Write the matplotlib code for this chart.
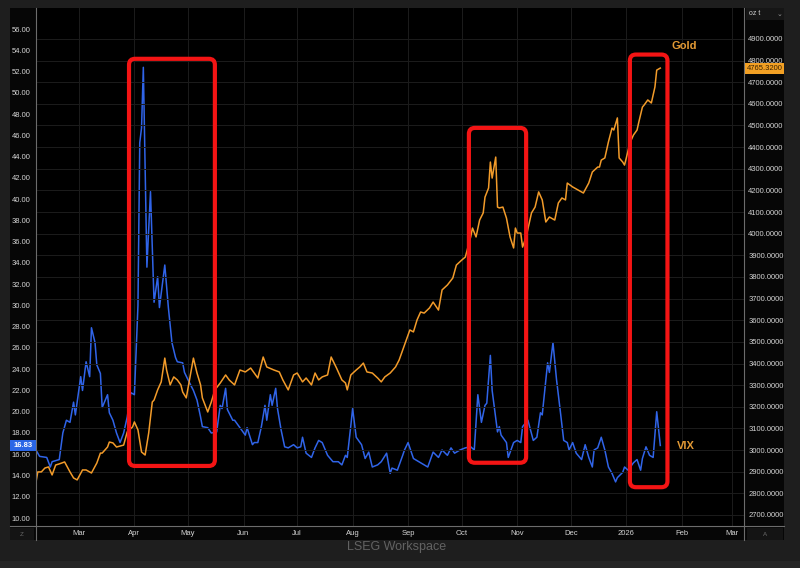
import matplotlib
matplotlib.use('Agg')
import matplotlib.pyplot as plt
from matplotlib.patches import Rectangle, FancyBboxPatch
from matplotlib.lines import Line2D
import matplotlib.transforms as mtransforms
import pandas as pd

plt.rcParams['font.family'] = ['Liberation Sans', 'DejaVu Sans']

# VIX (left axis)
vix_dates = ['2025-02-05', '2025-02-07', '2025-02-11', '2025-02-13', '2025-02-14', '2025-02-18',
             '2025-02-20', '2025-02-22', '2025-02-24', '2025-02-26', '2025-02-27', '2025-03-02',
             '2025-03-03', '2025-03-05', '2025-03-07', '2025-03-08', '2025-03-10', '2025-03-11',
             '2025-03-13', '2025-03-14', '2025-03-17', '2025-03-18', '2025-03-20', '2025-03-22',
             '2025-03-24', '2025-03-26', '2025-03-28', '2025-03-30', '2025-04-01', '2025-04-03',
             '2025-04-04', '2025-04-05', '2025-04-06', '2025-04-08', '2025-04-10', '2025-04-12',
             '2025-04-14', '2025-04-15', '2025-04-18', '2025-04-20', '2025-04-22', '2025-04-24',
             '2025-04-25', '2025-04-28', '2025-04-29', '2025-05-01', '2025-05-04', '2025-05-06',
             '2025-05-08', '2025-05-09', '2025-05-12', '2025-05-14', '2025-05-17', '2025-05-19',
             '2025-05-20', '2025-05-22', '2025-05-23', '2025-05-26', '2025-05-27', '2025-05-30',
             '2025-06-02', '2025-06-03', '2025-06-06', '2025-06-07', '2025-06-09', '2025-06-11',
             '2025-06-13', '2025-06-14', '2025-06-16', '2025-06-17', '2025-06-19', '2025-06-20',
             '2025-06-22', '2025-06-24', '2025-06-26', '2025-06-29', '2025-07-01', '2025-07-03',
             '2025-07-04', '2025-07-06', '2025-07-09', '2025-07-11', '2025-07-13', '2025-07-15',
             '2025-07-18', '2025-07-21', '2025-07-24', '2025-07-26', '2025-07-28', '2025-07-29',
             '2025-07-31', '2025-08-01', '2025-08-03', '2025-08-06', '2025-08-08', '2025-08-10',
             '2025-08-12', '2025-08-15', '2025-08-17', '2025-08-20', '2025-08-22', '2025-08-23',
             '2025-08-26', '2025-08-29', '2025-08-30', '2025-09-01', '2025-09-04', '2025-09-08',
             '2025-09-12', '2025-09-15', '2025-09-18', '2025-09-20', '2025-09-23', '2025-09-25',
             '2025-09-27', '2025-09-30', '2025-10-03', '2025-10-06', '2025-10-08', '2025-10-10',
             '2025-10-12', '2025-10-14', '2025-10-15', '2025-10-17', '2025-10-18', '2025-10-21',
             '2025-10-22', '2025-10-23', '2025-10-26', '2025-10-27', '2025-10-30', '2025-11-01',
             '2025-11-03', '2025-11-04', '2025-11-07', '2025-11-10', '2025-11-12', '2025-11-14',
             '2025-11-15', '2025-11-18', '2025-11-19', '2025-11-21', '2025-11-23', '2025-11-25',
             '2025-11-27', '2025-11-29', '2025-11-30', '2025-12-02', '2025-12-04', '2025-12-07',
             '2025-12-09', '2025-12-11', '2025-12-13', '2025-12-14', '2025-12-16', '2025-12-18',
             '2025-12-20', '2025-12-22', '2025-12-24', '2025-12-26', '2025-12-27', '2025-12-30',
             '2025-12-31', '2026-01-02', '2026-01-05', '2026-01-07', '2026-01-09', '2026-01-10',
             '2026-01-12', '2026-01-14', '2026-01-16', '2026-01-18', '2026-01-20']
vix_vals = [16.4, 15.8, 15.7, 14.8, 15.3, 15.5, 18.0, 19.2, 19.0, 20.9, 19.7, 23.3,
            22.0, 24.7, 23.3, 27.9, 26.5, 24.4, 23.6, 20.4, 21.6, 19.9, 19.2, 18.0,
            17.1, 18.0, 19.5, 21.8, 21.6, 30.0, 45.3, 46.7, 52.4, 33.6, 40.7, 30.3,
            32.7, 29.8, 33.8, 29.8, 26.5, 25.1, 24.7, 24.6, 23.7, 23.0, 22.0, 21.1,
            19.5, 18.6, 18.5, 18.0, 18.1, 20.6, 20.3, 22.2, 20.2, 19.2, 19.2, 18.5,
            17.8, 18.5, 16.9, 17.1, 17.1, 18.6, 20.6, 19.2, 21.6, 20.6, 22.2, 20.3,
            18.3, 16.7, 16.6, 16.9, 16.6, 16.7, 17.6, 16.1, 15.7, 16.6, 17.3, 17.1,
            15.9, 15.3, 15.3, 15.0, 15.9, 15.7, 18.7, 20.3, 17.6, 16.9, 15.6, 16.2,
            14.8, 15.0, 15.3, 16.1, 14.2, 14.7, 14.5, 15.9, 16.4, 17.1, 15.6, 15.2,
            14.8, 16.2, 15.7, 16.4, 15.9, 16.6, 16.1, 16.4, 16.6, 16.7, 16.4, 21.6,
            19.0, 20.6, 20.8, 25.3, 22.0, 18.1, 18.6, 17.8, 17.1, 15.7, 17.1, 17.3,
            17.1, 18.6, 19.2, 17.3, 17.6, 19.9, 19.7, 24.6, 23.7, 26.5, 23.0, 20.2,
            17.3, 17.1, 16.4, 17.1, 16.1, 15.5, 16.9, 15.7, 14.8, 16.4, 16.6, 17.6,
            16.4, 14.8, 14.2, 13.4, 13.8, 14.3, 14.8, 14.5, 15.2, 15.5, 14.5, 15.6,
            16.7, 15.9, 15.7, 20.0, 16.83]

# Gold (right axis)
gold_dates = ['2025-02-05', '2025-02-06', '2025-02-08', '2025-02-10', '2025-02-12', '2025-02-14',
              '2025-02-16', '2025-02-18', '2025-02-21', '2025-02-24', '2025-02-26', '2025-02-28',
              '2025-03-03', '2025-03-05', '2025-03-08', '2025-03-11', '2025-03-13', '2025-03-14',
              '2025-03-17', '2025-03-18', '2025-03-20', '2025-03-22', '2025-03-26', '2025-03-28',
              '2025-03-31', '2025-04-01', '2025-04-03', '2025-04-05', '2025-04-07', '2025-04-09',
              '2025-04-11', '2025-04-12', '2025-04-14', '2025-04-16', '2025-04-18', '2025-04-19',
              '2025-04-21', '2025-04-23', '2025-04-25', '2025-04-27', '2025-04-28', '2025-04-30',
              '2025-05-02', '2025-05-04', '2025-05-06', '2025-05-08', '2025-05-09', '2025-05-12',
              '2025-05-14', '2025-05-16', '2025-05-19', '2025-05-22', '2025-05-24', '2025-05-27',
              '2025-05-30', '2025-06-02', '2025-06-05', '2025-06-09', '2025-06-12', '2025-06-14',
              '2025-06-18', '2025-06-21', '2025-06-23', '2025-06-26', '2025-06-29', '2025-07-01',
              '2025-07-04', '2025-07-06', '2025-07-09', '2025-07-11', '2025-07-13', '2025-07-15',
              '2025-07-18', '2025-07-20', '2025-07-23', '2025-07-26', '2025-07-28', '2025-07-29',
              '2025-07-31', '2025-08-03', '2025-08-05', '2025-08-07', '2025-08-09', '2025-08-12',
              '2025-08-15', '2025-08-17', '2025-08-19', '2025-08-22', '2025-08-25', '2025-08-27',
              '2025-08-30', '2025-09-02', '2025-09-04', '2025-09-06', '2025-09-08', '2025-09-10',
              '2025-09-13', '2025-09-15', '2025-09-18', '2025-09-20', '2025-09-23', '2025-09-26',
              '2025-09-28', '2025-10-01', '2025-10-03', '2025-10-06', '2025-10-07', '2025-10-09',
              '2025-10-11', '2025-10-13', '2025-10-14', '2025-10-16', '2025-10-17', '2025-10-18',
              '2025-10-20', '2025-10-21', '2025-10-22', '2025-10-24', '2025-10-26', '2025-10-28',
              '2025-10-30', '2025-10-31', '2025-11-01', '2025-11-03', '2025-11-04', '2025-11-06',
              '2025-11-09', '2025-11-11', '2025-11-13', '2025-11-15', '2025-11-17', '2025-11-19',
              '2025-11-22', '2025-11-24', '2025-11-26', '2025-11-28', '2025-11-29', '2025-12-02',
              '2025-12-05', '2025-12-08', '2025-12-11', '2025-12-13', '2025-12-16', '2025-12-17',
              '2025-12-18', '2025-12-20', '2025-12-22', '2025-12-24', '2025-12-25', '2025-12-27',
              '2025-12-28', '2025-12-30', '2025-12-31', '2026-01-01', '2026-01-03', '2026-01-05',
              '2026-01-07', '2026-01-08', '2026-01-10', '2026-01-11', '2026-01-13', '2026-01-15',
              '2026-01-17', '2026-01-18', '2026-01-20']
gold_vals = [2852, 2899, 2899, 2917, 2922, 2885, 2931, 2936, 2945, 2899, 2871, 2862,
             2908, 2908, 2894, 2940, 2986, 2986, 3014, 3037, 3033, 3014, 3023, 3084,
             3107, 3130, 3093, 2991, 2977, 3079, 3222, 3231, 3278, 3315, 3425, 3370,
             3301, 3338, 3324, 3301, 3268, 3241, 3333, 3425, 3356, 3301, 3241, 3176,
             3222, 3278, 3310, 3347, 3324, 3301, 3370, 3361, 3379, 3333, 3430, 3384,
             3370, 3361, 3324, 3278, 3347, 3356, 3315, 3333, 3301, 3356, 3324, 3338,
             3347, 3430, 3379, 3324, 3310, 3278, 3347, 3370, 3384, 3402, 3361, 3356,
             3333, 3315, 3338, 3356, 3384, 3416, 3486, 3555, 3546, 3601, 3638, 3633,
             3657, 3684, 3647, 3740, 3763, 3795, 3855, 3878, 3892, 3985, 4026, 3985,
             4063, 4096, 4169, 4211, 4331, 4257, 4354, 4123, 4119, 4123, 4072, 3985,
             3934, 4026, 4003, 4003, 3938, 3985, 4096, 4123, 4193, 4156, 4054, 4077,
             4063, 4142, 4165, 4156, 4234, 4216, 4202, 4188, 4234, 4285, 4308, 4308,
             4340, 4350, 4424, 4488, 4479, 4535, 4350, 4331, 4317, 4350, 4419, 4456,
             4479, 4516, 4585, 4595, 4618, 4604, 4678, 4756, 4765.32]

vix_ticks = list(range(10, 57, 2))
gold_ticks = list(range(2700, 4901, 100))
month_ticks = ['2025-03-01', '2025-04-01', '2025-05-01', '2025-06-01', '2025-07-01', '2025-08-01',
               '2025-09-01', '2025-10-01', '2025-11-01', '2025-12-01', '2026-01-01', '2026-02-01',
               '2026-03-01']
month_labels = ['Mar', 'Apr', 'May', 'Jun', 'Jul', 'Aug', 'Sep', 'Oct', 'Nov', 'Dec', '2026', 'Feb', 'Mar']

# highlighted windows: start, end and VIX range covered by the red frames
box_starts = ['2025-03-29', '2025-10-05', '2026-01-03']
box_ends = ['2025-05-16', '2025-11-06', '2026-01-24']
box_lows = [14.9, 15.2, 12.9]
box_highs = [53.2, 46.7, 53.6]

W, H = 800, 568
fig = plt.figure(figsize=(W / 100, H / 100), dpi=100)
fig.patch.set_facecolor('#1e1e1e')


def fx(x):
    return x / W


def fy(y):
    return 1 - y / H


def panel(x0, y0, x1, y1, color, z=-1):
    fig.add_artist(Rectangle((fx(x0), fy(y1)), fx(x1) - fx(x0), fy(y0) - fy(y1),
                             transform=fig.transFigure, facecolor=color, edgecolor='none', zorder=z))


# dark frame around the chart
panel(10, 8, 784, 540, '#060606')
panel(0, 561, 800, 568, '#262626')
panel(746, 8, 784, 20, '#161616', 0.5)
panel(10, 528, 34, 540, '#141414', 0.5)
panel(747, 528, 783, 540, '#141414', 0.5)

ax = fig.add_axes([fx(36), fy(526), fx(744) - fx(36), fy(8) - fy(526)])
ax.set_facecolor('black')
ax2 = ax.twinx()

ax.plot(pd.to_datetime(vix_dates), vix_vals, color='#3064e8', lw=1.1, zorder=3)
ax2.plot(pd.to_datetime(gold_dates), gold_vals, color='#f29b2a', lw=1.1, zorder=3)

ax.set_xlim(pd.Timestamp('2025-02-05'), pd.Timestamp('2026-03-07 19:00'))
ax.set_ylim(9.25, 57.98)
ax2.set_ylim(2649, 5043)

for a in (ax, ax2):
    for s in a.spines.values():
        s.set_visible(False)

ax.set_yticks(vix_ticks)
ax.set_yticklabels([f'{v:.2f}' for v in vix_ticks])
ax.tick_params(axis='y', length=0, pad=4, labelsize=5.5, labelcolor='#d4d4d4')
ax2.set_yticks(gold_ticks)
ax2.set_yticklabels([f'{v:.4f}' for v in gold_ticks])
ax2.tick_params(axis='y', length=0, pad=3, labelsize=5.5, labelcolor='#d4d4d4')
ax.set_xticks(pd.to_datetime(month_ticks))
ax.set_xticklabels(month_labels)
ax.tick_params(axis='x', length=0, pad=3, labelsize=5.5, labelcolor='#d4d4d4')

ax.grid(axis='x', color='#1c1c1c', lw=0.7)
ax.grid(axis='y', visible=False)
ax2.grid(axis='y', color='#1c1c1c', lw=0.7)
ax2.set_axisbelow(True)

# axis lines running into the frame
for (x0, y0, x1, y1) in [(10, 526, 784, 526), (36, 8, 36, 540), (744, 8, 744, 540)]:
    fig.add_artist(Line2D([fx(x0), fx(x1)], [fy(y0), fy(y1)], transform=fig.transFigure,
                          color='#6c6c6c', lw=0.8, zorder=2))

# red frames
for s, e, lo, hi in zip(box_starts, box_ends, box_lows, box_highs):
    p0 = ax.transData.transform((matplotlib.dates.date2num(pd.Timestamp(s)), lo))
    p1 = ax.transData.transform((matplotlib.dates.date2num(pd.Timestamp(e)), hi))
    fig.add_artist(FancyBboxPatch((p0[0], p0[1]), p1[0] - p0[0], p1[1] - p0[1],
                                  boxstyle='round,pad=0,rounding_size=6', transform=None,
                                  facecolor='none', edgecolor='#f41414', lw=3.0, zorder=5))

# last value tags
inv = fig.transFigure.inverted()
y_vix = ax.transData.transform((0, vix_vals[-1]))[1]
y_gold = ax2.transData.transform((0, gold_vals[-1]))[1]
fig.add_artist(Rectangle(inv.transform((10, y_vix - 5.5)), fx(26), 11 / H, transform=fig.transFigure,
                         facecolor='#2a66e6', edgecolor='none', zorder=6))
fig.text(fx(23), inv.transform((0, y_vix))[1], f'{vix_vals[-1]:.2f}', ha='center', va='center',
         fontsize=5.5, color='white', weight='bold', zorder=7)
fig.add_artist(Rectangle(inv.transform((745, y_gold - 5.5)), fx(39), 11 / H, transform=fig.transFigure,
                         facecolor='#f2a024', edgecolor='none', zorder=6))
fig.text(fx(764.5), inv.transform((0, y_gold))[1], f'{gold_vals[-1]:.4f}', ha='center', va='center',
         fontsize=5.5, color='#3a2200', zorder=7)

# series names
fig.text(fx(672), fy(46), 'Gold', ha='left', va='center', fontsize=8, weight='bold', color='#e39a35')
fig.text(fx(677), fy(446), 'VIX', ha='left', va='center', fontsize=8, weight='bold', color='#e39a35')

# toolbar bits
fig.text(fx(749), fy(13.5), 'oz t', ha='left', va='center', fontsize=5, color='#cfcfcf')
fig.text(fx(779), fy(13.5), '⌄', ha='center', va='center', fontsize=5, color='#9a9a9a',
         family=['DejaVu Sans'])
fig.text(fx(22), fy(534), 'Z', ha='center', va='center', fontsize=4.5, color='#6a6a6a')
fig.text(fx(765), fy(534), 'A', ha='center', va='center', fontsize=4.5, color='#6a6a6a')
fig.text(fx(397), fy(547), 'LSEG Workspace', ha='center', va='center', fontsize=9, color='#626262')

fig.savefig('out.png', dpi=100, facecolor=fig.get_facecolor())
